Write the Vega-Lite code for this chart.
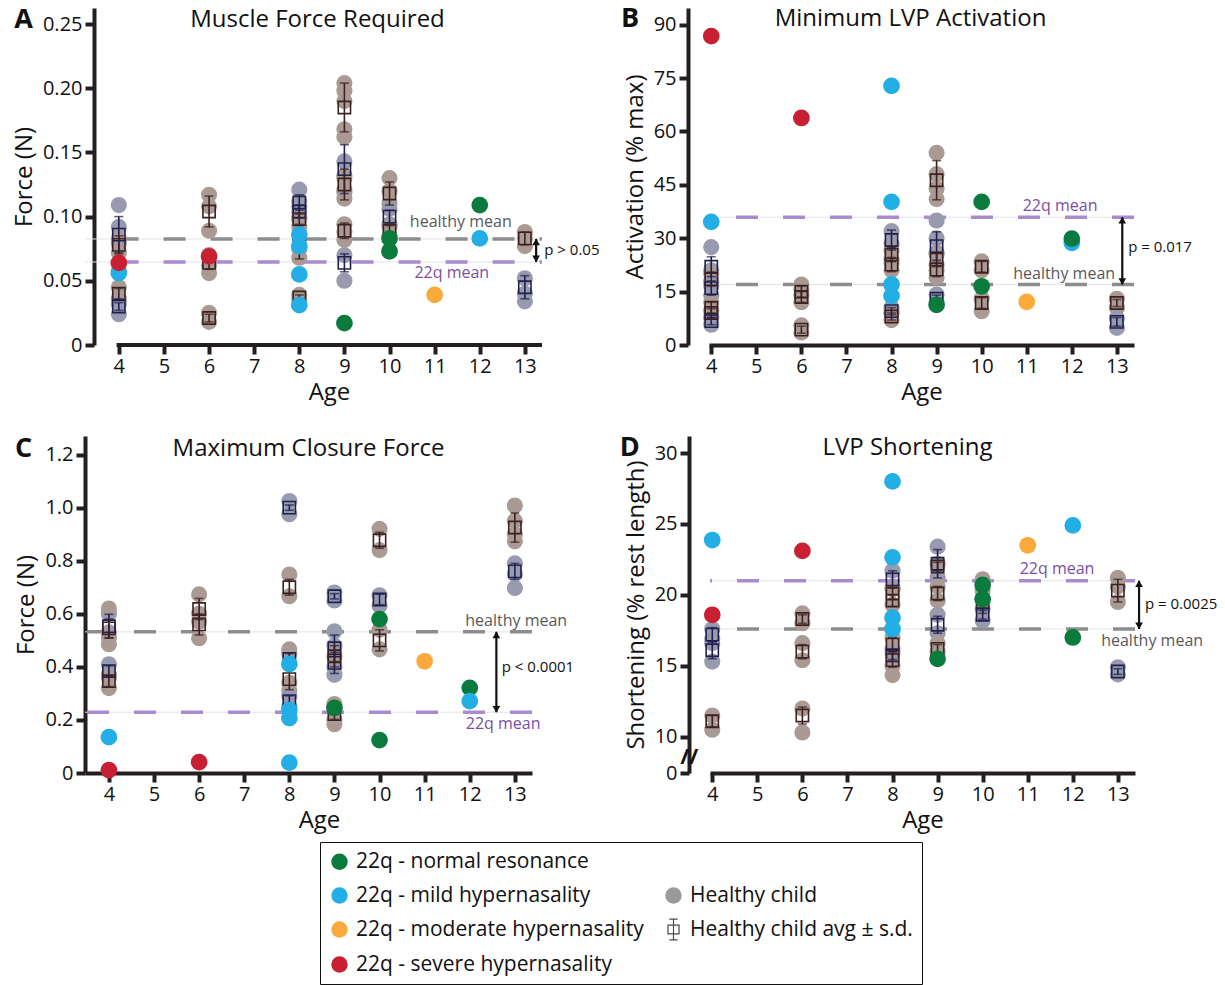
{
"$schema": "https://vega.github.io/schema/vega-lite/v6.json",
"background": "white",
"padding": {"left": 12, "top": 5, "right": 0, "bottom": 0},
"config": {
  "view": {"stroke": null},
  "font": "Open Sans",
  "axis": {"domainColor": "#231f20", "domainWidth": 4, "tickColor": "#231f20", "tickWidth": 4, "tickSize": 9, "labelFontSize": 20, "labelColor": "#111", "titleFontSize": 24, "titleFontWeight": "normal", "titleColor": "#111", "grid": false, "labelFont": "Open Sans", "titleFont": "Open Sans"},
  "axisY": {"offset": 21, "titlePadding": 6, "labelPadding": 3},
  "axisX": {"titlePadding": 4, "labelPadding": 2},
  "title": {"fontSize": 24, "fontWeight": "normal", "anchor": "middle", "offset": -26, "color": "#111", "font": "Open Sans", "frame": "group"}
},
"datasets": {
  "means": [
    {"p":"A","k":"h","v":0.0826},{"p":"A","k":"q","v":0.0647},
    {"p":"B","k":"h","v":17.0},{"p":"B","k":"q","v":35.9},
    {"p":"C","k":"h","v":0.532},{"p":"C","k":"q","v":0.229},
    {"p":"D","k":"h","v":17.6},{"p":"D","k":"q","v":21.0}
  ],
  "notes": [
    {"p":"A","k":"h","t":"healthy mean","age":11.58,"v":0.0958},
    {"p":"A","k":"q","t":"22q mean","age":11.38,"v":0.0561},
    {"p":"A","k":"p","t":"p > 0.05","age":13.43,"v":0.0737},
    {"p":"B","k":"q","t":"22q mean","age":11.74,"v":39.1},
    {"p":"B","k":"h","t":"healthy mean","age":11.83,"v":19.97},
    {"p":"B","k":"p","t":"p = 0.017","age":13.25,"v":27.6},
    {"p":"C","k":"h","t":"healthy mean","age":13.03,"v":0.572},
    {"p":"C","k":"q","t":"22q mean","age":12.74,"v":0.184},
    {"p":"C","k":"p","t":"p < 0.0001","age":12.71,"v":0.399},
    {"p":"D","k":"q","t":"22q mean","age":11.65,"v":21.86},
    {"p":"D","k":"h","t":"healthy mean","age":13.76,"v":16.74},
    {"p":"D","k":"p","t":"p = 0.0025","age":13.6,"v":19.33},
    {"p":"D","k":"b","t":"//","age":3.49,"v":8.6}
  ],
  "arrows": [
    {"p":"A","age":13.25,"lo":0.0647,"hi":0.0826},
    {"p":"B","age":13.12,"lo":17.0,"hi":35.9},
    {"p":"C","age":12.59,"lo":0.229,"hi":0.532},
    {"p":"D","age":13.47,"lo":17.6,"hi":21.0}
  ],
  "baseline": [
    {"p":"A","from":3.95,"to":13.38,"v":0}
  ],
  "letters": [
    {"p":"A","t":"A","age":1.89,"v":0.253},
    {"p":"B","t":"B","age":2.2,"v":91.6},
    {"p":"C","t":"C","age":2.11,"v":1.222},
    {"p":"D","t":"D","age":2.17,"v":30.35}
  ],
  "hp": [
    {"p":"A","age":4,"v":0.109,"g":"b"},{"p":"A","age":4,"v":0.092,"g":"b"},{"p":"A","age":4,"v":0.083,"g":"a"},{"p":"A","age":4,"v":0.079,"g":"b"},{"p":"A","age":4,"v":0.072,"g":"a"},{"p":"A","age":4,"v":0.058,"g":"a"},{"p":"A","age":4,"v":0.045,"g":"a"},{"p":"A","age":4,"v":0.036,"g":"a"},{"p":"A","age":4,"v":0.032,"g":"b"},{"p":"A","age":4,"v":0.024,"g":"b"},
    {"p":"A","age":6,"v":0.117,"g":"a"},{"p":"A","age":6,"v":0.108,"g":"a"},{"p":"A","age":6,"v":0.089,"g":"a"},{"p":"A","age":6,"v":0.070,"g":"a"},{"p":"A","age":6,"v":0.062,"g":"a"},{"p":"A","age":6,"v":0.056,"g":"a"},{"p":"A","age":6,"v":0.025,"g":"a"},{"p":"A","age":6,"v":0.018,"g":"a"},
    {"p":"A","age":8,"v":0.121,"g":"b"},{"p":"A","age":8,"v":0.112,"g":"b"},{"p":"A","age":8,"v":0.104,"g":"b"},{"p":"A","age":8,"v":0.108,"g":"b"},{"p":"A","age":8,"v":0.099,"g":"b"},{"p":"A","age":8,"v":0.098,"g":"a"},{"p":"A","age":8,"v":0.092,"g":"a"},{"p":"A","age":8,"v":0.075,"g":"a"},{"p":"A","age":8,"v":0.068,"g":"a"},{"p":"A","age":8,"v":0.039,"g":"a"},{"p":"A","age":8,"v":0.035,"g":"a"},
    {"p":"A","age":9,"v":0.204,"g":"a"},{"p":"A","age":9,"v":0.198,"g":"a"},{"p":"A","age":9,"v":0.190,"g":"a"},{"p":"A","age":9,"v":0.168,"g":"a"},{"p":"A","age":9,"v":0.162,"g":"a"},{"p":"A","age":9,"v":0.143,"g":"b"},{"p":"A","age":9,"v":0.132,"g":"b"},{"p":"A","age":9,"v":0.119,"g":"b"},{"p":"A","age":9,"v":0.130,"g":"a"},{"p":"A","age":9,"v":0.121,"g":"a"},{"p":"A","age":9,"v":0.114,"g":"a"},{"p":"A","age":9,"v":0.094,"g":"a"},{"p":"A","age":9,"v":0.088,"g":"a"},{"p":"A","age":9,"v":0.082,"g":"a"},{"p":"A","age":9,"v":0.070,"g":"b"},{"p":"A","age":9,"v":0.050,"g":"b"},
    {"p":"A","age":10,"v":0.130,"g":"a"},{"p":"A","age":10,"v":0.120,"g":"a"},{"p":"A","age":10,"v":0.110,"g":"a"},{"p":"A","age":10,"v":0.106,"g":"b"},{"p":"A","age":10,"v":0.094,"g":"b"},{"p":"A","age":10,"v":0.092,"g":"a"},{"p":"A","age":10,"v":0.085,"g":"a"},
    {"p":"A","age":13,"v":0.088,"g":"a"},{"p":"A","age":13,"v":0.083,"g":"a"},{"p":"A","age":13,"v":0.077,"g":"a"},{"p":"A","age":13,"v":0.052,"g":"b"},{"p":"A","age":13,"v":0.040,"g":"b"},{"p":"A","age":13,"v":0.034,"g":"b"},
    {"p":"B","age":4,"v":27.5,"g":"b"},{"p":"B","age":4,"v":21,"g":"b"},{"p":"B","age":4,"v":18,"g":"b"},{"p":"B","age":4,"v":20,"g":"a"},{"p":"B","age":4,"v":16.5,"g":"a"},{"p":"B","age":4,"v":17.5,"g":"b"},{"p":"B","age":4,"v":14,"g":"b"},{"p":"B","age":4,"v":12,"g":"a"},{"p":"B","age":4,"v":9.5,"g":"a"},{"p":"B","age":4,"v":10,"g":"a"},{"p":"B","age":4,"v":8,"g":"a"},{"p":"B","age":4,"v":7.5,"g":"b"},{"p":"B","age":4,"v":5.7,"g":"b"},
    {"p":"B","age":6,"v":17,"g":"a"},{"p":"B","age":6,"v":15.5,"g":"a"},{"p":"B","age":6,"v":14,"g":"a"},{"p":"B","age":6,"v":12,"g":"a"},{"p":"B","age":6,"v":5.5,"g":"a"},{"p":"B","age":6,"v":3.5,"g":"a"},
    {"p":"B","age":8,"v":32,"g":"b"},{"p":"B","age":8,"v":28.5,"g":"b"},{"p":"B","age":8,"v":26.5,"g":"a"},{"p":"B","age":8,"v":24,"g":"a"},{"p":"B","age":8,"v":23,"g":"a"},{"p":"B","age":8,"v":21,"g":"a"},{"p":"B","age":8,"v":10.5,"g":"b"},{"p":"B","age":8,"v":9,"g":"b"},{"p":"B","age":8,"v":9,"g":"a"},{"p":"B","age":8,"v":7,"g":"a"},
    {"p":"B","age":9,"v":54,"g":"a"},{"p":"B","age":9,"v":48,"g":"a"},{"p":"B","age":9,"v":44,"g":"a"},{"p":"B","age":9,"v":41,"g":"a"},{"p":"B","age":9,"v":35,"g":"b"},{"p":"B","age":9,"v":30,"g":"b"},{"p":"B","age":9,"v":26,"g":"b"},{"p":"B","age":9,"v":25.5,"g":"a"},{"p":"B","age":9,"v":22.5,"g":"a"},{"p":"B","age":9,"v":21,"g":"a"},{"p":"B","age":9,"v":19,"g":"a"},{"p":"B","age":9,"v":14.2,"g":"b"},{"p":"B","age":9,"v":12,"g":"b"},
    {"p":"B","age":10,"v":23.5,"g":"a"},{"p":"B","age":10,"v":21,"g":"a"},{"p":"B","age":10,"v":13,"g":"a"},{"p":"B","age":10,"v":9.5,"g":"a"},
    {"p":"B","age":13,"v":13,"g":"a"},{"p":"B","age":13,"v":10.5,"g":"a"},{"p":"B","age":13,"v":7.5,"g":"b"},{"p":"B","age":13,"v":4.8,"g":"b"},
    {"p":"C","age":4,"v":0.60,"g":"b"},{"p":"C","age":4,"v":0.53,"g":"b"},{"p":"C","age":4,"v":0.62,"g":"a"},{"p":"C","age":4,"v":0.51,"g":"a"},{"p":"C","age":4,"v":0.485,"g":"a"},{"p":"C","age":4,"v":0.41,"g":"b"},{"p":"C","age":4,"v":0.37,"g":"b"},{"p":"C","age":4,"v":0.36,"g":"a"},{"p":"C","age":4,"v":0.32,"g":"a"},
    {"p":"C","age":6,"v":0.673,"g":"a"},{"p":"C","age":6,"v":0.60,"g":"a"},{"p":"C","age":6,"v":0.57,"g":"a"},{"p":"C","age":6,"v":0.508,"g":"a"},
    {"p":"C","age":8,"v":1.025,"g":"b"},{"p":"C","age":8,"v":0.975,"g":"b"},{"p":"C","age":8,"v":0.748,"g":"a"},{"p":"C","age":8,"v":0.666,"g":"a"},{"p":"C","age":8,"v":0.45,"g":"b"},{"p":"C","age":8,"v":0.466,"g":"a"},{"p":"C","age":8,"v":0.34,"g":"a"},{"p":"C","age":8,"v":0.31,"g":"a"},{"p":"C","age":8,"v":0.29,"g":"b"},{"p":"C","age":8,"v":0.25,"g":"b"},
    {"p":"C","age":9,"v":0.68,"g":"b"},{"p":"C","age":9,"v":0.65,"g":"b"},{"p":"C","age":9,"v":0.534,"g":"b"},{"p":"C","age":9,"v":0.48,"g":"b"},{"p":"C","age":9,"v":0.40,"g":"b"},{"p":"C","age":9,"v":0.37,"g":"b"},{"p":"C","age":9,"v":0.44,"g":"a"},{"p":"C","age":9,"v":0.26,"g":"a"},{"p":"C","age":9,"v":0.20,"g":"a"},{"p":"C","age":9,"v":0.184,"g":"a"},
    {"p":"C","age":10,"v":0.92,"g":"a"},{"p":"C","age":10,"v":0.84,"g":"a"},{"p":"C","age":10,"v":0.67,"g":"b"},{"p":"C","age":10,"v":0.63,"g":"b"},{"p":"C","age":10,"v":0.54,"g":"a"},{"p":"C","age":10,"v":0.466,"g":"a"},
    {"p":"C","age":13,"v":1.008,"g":"a"},{"p":"C","age":13,"v":0.95,"g":"a"},{"p":"C","age":13,"v":0.90,"g":"a"},{"p":"C","age":13,"v":0.873,"g":"a"},{"p":"C","age":13,"v":0.79,"g":"b"},{"p":"C","age":13,"v":0.75,"g":"b"},{"p":"C","age":13,"v":0.697,"g":"b"},
    {"p":"D","age":4,"v":17.6,"g":"b"},{"p":"D","age":4,"v":16.9,"g":"b"},{"p":"D","age":4,"v":16.6,"g":"b"},{"p":"D","age":4,"v":15.3,"g":"b"},{"p":"D","age":4,"v":11.5,"g":"a"},{"p":"D","age":4,"v":10.5,"g":"a"},
    {"p":"D","age":6,"v":18.7,"g":"a"},{"p":"D","age":6,"v":18.0,"g":"a"},{"p":"D","age":6,"v":16.6,"g":"a"},{"p":"D","age":6,"v":15.4,"g":"a"},{"p":"D","age":6,"v":12.0,"g":"a"},{"p":"D","age":6,"v":10.3,"g":"a"},
    {"p":"D","age":8,"v":21.7,"g":"b"},{"p":"D","age":8,"v":20.5,"g":"b"},{"p":"D","age":8,"v":20.4,"g":"a"},{"p":"D","age":8,"v":19.3,"g":"a"},{"p":"D","age":8,"v":17.0,"g":"a"},{"p":"D","age":8,"v":16.2,"g":"a"},{"p":"D","age":8,"v":15.9,"g":"b"},{"p":"D","age":8,"v":15.0,"g":"a"},{"p":"D","age":8,"v":14.35,"g":"a"},
    {"p":"D","age":9,"v":23.4,"g":"b"},{"p":"D","age":9,"v":21.25,"g":"b"},{"p":"D","age":9,"v":22.2,"g":"a"},{"p":"D","age":9,"v":20.6,"g":"a"},{"p":"D","age":9,"v":19.6,"g":"a"},{"p":"D","age":9,"v":18.6,"g":"b"},{"p":"D","age":9,"v":17.3,"g":"b"},{"p":"D","age":9,"v":16.6,"g":"a"},{"p":"D","age":9,"v":16.0,"g":"a"},
    {"p":"D","age":10,"v":21.1,"g":"a"},{"p":"D","age":10,"v":20.3,"g":"a"},{"p":"D","age":10,"v":19.0,"g":"b"},{"p":"D","age":10,"v":18.2,"g":"b"},
    {"p":"D","age":13,"v":21.2,"g":"a"},{"p":"D","age":13,"v":20.6,"g":"a"},{"p":"D","age":13,"v":19.5,"g":"a"},{"p":"D","age":13,"v":14.9,"g":"b"},{"p":"D","age":13,"v":14.4,"g":"b"}
  ],
  "ha": [
    {"p":"A","age":4,"m":0.086,"lo":0.072,"hi":0.100,"g":"b"},{"p":"A","age":4,"m":0.078,"lo":0.071,"hi":0.085,"g":"a"},{"p":"A","age":4,"m":0.040,"lo":0.036,"hi":0.044,"g":"a"},{"p":"A","age":4,"m":0.030,"lo":0.027,"hi":0.033,"g":"b"},
    {"p":"A","age":6,"m":0.104,"lo":0.092,"hi":0.116,"g":"a"},{"p":"A","age":6,"m":0.064,"lo":0.059,"hi":0.069,"g":"a"},{"p":"A","age":6,"m":0.021,"lo":0.018,"hi":0.024,"g":"a"},
    {"p":"A","age":8,"m":0.111,"lo":0.105,"hi":0.117,"g":"b"},{"p":"A","age":8,"m":0.104,"lo":0.099,"hi":0.109,"g":"b"},{"p":"A","age":8,"m":0.098,"lo":0.094,"hi":0.102,"g":"a"},{"p":"A","age":8,"m":0.080,"lo":0.067,"hi":0.093,"g":"a"},{"p":"A","age":8,"m":0.037,"lo":0.035,"hi":0.039,"g":"a"},
    {"p":"A","age":9,"m":0.185,"lo":0.166,"hi":0.204,"g":"a"},{"p":"A","age":9,"m":0.137,"lo":0.118,"hi":0.156,"g":"b"},{"p":"A","age":9,"m":0.125,"lo":0.113,"hi":0.137,"g":"a"},{"p":"A","age":9,"m":0.089,"lo":0.083,"hi":0.095,"g":"a"},{"p":"A","age":9,"m":0.064,"lo":0.057,"hi":0.071,"g":"b"},
    {"p":"A","age":10,"m":0.118,"lo":0.109,"hi":0.127,"g":"a"},{"p":"A","age":10,"m":0.100,"lo":0.095,"hi":0.105,"g":"b"},{"p":"A","age":10,"m":0.089,"lo":0.085,"hi":0.093,"g":"a"},
    {"p":"A","age":13,"m":0.083,"lo":0.078,"hi":0.088,"g":"a"},{"p":"A","age":13,"m":0.045,"lo":0.036,"hi":0.054,"g":"b"},
    {"p":"B","age":4,"m":22,"lo":19.2,"hi":24.8,"g":"b"},{"p":"B","age":4,"m":18.5,"lo":16.5,"hi":20.5,"g":"a"},{"p":"B","age":4,"m":16,"lo":14,"hi":18,"g":"b"},{"p":"B","age":4,"m":10.5,"lo":9,"hi":12,"g":"a"},{"p":"B","age":4,"m":9,"lo":7.8,"hi":10.2,"g":"a"},{"p":"B","age":4,"m":6.7,"lo":5.7,"hi":7.7,"g":"b"},
    {"p":"B","age":6,"m":15,"lo":13.5,"hi":16.5,"g":"a"},{"p":"B","age":6,"m":13.5,"lo":12,"hi":15,"g":"a"},{"p":"B","age":6,"m":4.3,"lo":3.3,"hi":5.3,"g":"a"},
    {"p":"B","age":8,"m":29.5,"lo":26.7,"hi":32.3,"g":"b"},{"p":"B","age":8,"m":25.4,"lo":23.4,"hi":27.4,"g":"a"},{"p":"B","age":8,"m":22.6,"lo":20.6,"hi":24.6,"g":"a"},{"p":"B","age":8,"m":9.5,"lo":8.5,"hi":10.5,"g":"b"},{"p":"B","age":8,"m":8,"lo":7,"hi":9,"g":"a"},
    {"p":"B","age":9,"m":46.3,"lo":40.8,"hi":51.8,"g":"a"},{"p":"B","age":9,"m":27.8,"lo":23.8,"hi":31.8,"g":"b"},{"p":"B","age":9,"m":24,"lo":22,"hi":26,"g":"a"},{"p":"B","age":9,"m":21.2,"lo":19.2,"hi":23.2,"g":"a"},{"p":"B","age":9,"m":13,"lo":12,"hi":14,"g":"b"},
    {"p":"B","age":10,"m":22,"lo":20.5,"hi":23.5,"g":"a"},{"p":"B","age":10,"m":11.8,"lo":10.3,"hi":13.3,"g":"a"},
    {"p":"B","age":13,"m":11.8,"lo":10.8,"hi":12.8,"g":"a"},{"p":"B","age":13,"m":6.5,"lo":5.3,"hi":7.7,"g":"b"},
    {"p":"C","age":4,"m":0.553,"lo":0.508,"hi":0.598,"g":"b"},{"p":"C","age":4,"m":0.545,"lo":0.51,"hi":0.58,"g":"a"},{"p":"C","age":4,"m":0.384,"lo":0.364,"hi":0.404,"g":"b"},{"p":"C","age":4,"m":0.346,"lo":0.326,"hi":0.366,"g":"a"},
    {"p":"C","age":6,"m":0.618,"lo":0.578,"hi":0.658,"g":"a"},{"p":"C","age":6,"m":0.56,"lo":0.52,"hi":0.60,"g":"a"},
    {"p":"C","age":8,"m":1.0,"lo":0.99,"hi":1.01,"g":"b"},{"p":"C","age":8,"m":0.70,"lo":0.67,"hi":0.73,"g":"a"},{"p":"C","age":8,"m":0.43,"lo":0.41,"hi":0.45,"g":"b"},{"p":"C","age":8,"m":0.354,"lo":0.314,"hi":0.394,"g":"a"},{"p":"C","age":8,"m":0.271,"lo":0.251,"hi":0.291,"g":"b"},
    {"p":"C","age":9,"m":0.666,"lo":0.656,"hi":0.676,"g":"b"},{"p":"C","age":9,"m":0.47,"lo":0.42,"hi":0.52,"g":"b"},{"p":"C","age":9,"m":0.415,"lo":0.375,"hi":0.455,"g":"b"},{"p":"C","age":9,"m":0.44,"lo":0.40,"hi":0.48,"g":"a"},{"p":"C","age":9,"m":0.222,"lo":0.202,"hi":0.242,"g":"a"},
    {"p":"C","age":10,"m":0.877,"lo":0.847,"hi":0.907,"g":"a"},{"p":"C","age":10,"m":0.654,"lo":0.634,"hi":0.674,"g":"b"},{"p":"C","age":10,"m":0.50,"lo":0.46,"hi":0.54,"g":"a"},
    {"p":"C","age":13,"m":0.925,"lo":0.87,"hi":0.98,"g":"a"},{"p":"C","age":13,"m":0.76,"lo":0.73,"hi":0.79,"g":"b"},
    {"p":"D","age":4,"m":17.2,"lo":16.7,"hi":17.7,"g":"b"},{"p":"D","age":4,"m":16.1,"lo":15.5,"hi":16.7,"g":"b"},{"p":"D","age":4,"m":11.1,"lo":10.7,"hi":11.5,"g":"a"},
    {"p":"D","age":6,"m":18.3,"lo":18.0,"hi":18.6,"g":"a"},{"p":"D","age":6,"m":16.0,"lo":15.5,"hi":16.5,"g":"a"},{"p":"D","age":6,"m":11.5,"lo":10.9,"hi":12.1,"g":"a"},
    {"p":"D","age":8,"m":21.1,"lo":20.5,"hi":21.7,"g":"b"},{"p":"D","age":8,"m":20.1,"lo":19.7,"hi":20.5,"g":"a"},{"p":"D","age":8,"m":19.6,"lo":19.2,"hi":20.0,"g":"a"},{"p":"D","age":8,"m":16.5,"lo":16.0,"hi":17.0,"g":"a"},{"p":"D","age":8,"m":15.75,"lo":15.45,"hi":16.05,"g":"b"},{"p":"D","age":8,"m":15.4,"lo":14.9,"hi":15.9,"g":"a"},
    {"p":"D","age":9,"m":22.2,"lo":21.2,"hi":23.2,"g":"b"},{"p":"D","age":9,"m":22.0,"lo":21.7,"hi":22.3,"g":"a"},{"p":"D","age":9,"m":20.1,"lo":19.6,"hi":20.6,"g":"a"},{"p":"D","age":9,"m":17.9,"lo":17.3,"hi":18.5,"g":"b"},{"p":"D","age":9,"m":16.2,"lo":15.9,"hi":16.5,"g":"a"},
    {"p":"D","age":10,"m":19.5,"lo":18.7,"hi":20.3,"g":"a"},{"p":"D","age":10,"m":18.6,"lo":18.3,"hi":18.9,"g":"b"},
    {"p":"D","age":13,"m":20.3,"lo":19.5,"hi":21.1,"g":"a"},{"p":"D","age":13,"m":14.6,"lo":14.4,"hi":14.8,"g":"b"}
  ],
  "q": [
    {"p":"A","age":4,"v":0.056,"grp":"22q - mild hypernasality"},{"p":"A","age":4,"v":0.064,"grp":"22q - severe hypernasality"},
    {"p":"A","age":6,"v":0.069,"grp":"22q - severe hypernasality"},
    {"p":"A","age":8,"v":0.086,"grp":"22q - mild hypernasality"},{"p":"A","age":8,"v":0.077,"grp":"22q - mild hypernasality"},{"p":"A","age":8,"v":0.055,"grp":"22q - mild hypernasality"},{"p":"A","age":8,"v":0.031,"grp":"22q - mild hypernasality"},
    {"p":"A","age":9,"v":0.017,"grp":"22q - normal resonance"},
    {"p":"A","age":10,"v":0.083,"grp":"22q - normal resonance"},{"p":"A","age":10,"v":0.073,"grp":"22q - normal resonance"},
    {"p":"A","age":11,"v":0.039,"grp":"22q - moderate hypernasality"},
    {"p":"A","age":12,"v":0.109,"grp":"22q - normal resonance"},{"p":"A","age":12,"v":0.083,"grp":"22q - mild hypernasality"},
    {"p":"B","age":4,"v":86.8,"grp":"22q - severe hypernasality"},{"p":"B","age":4,"v":34.6,"grp":"22q - mild hypernasality"},
    {"p":"B","age":6,"v":63.8,"grp":"22q - severe hypernasality"},
    {"p":"B","age":8,"v":72.8,"grp":"22q - mild hypernasality"},{"p":"B","age":8,"v":40.2,"grp":"22q - mild hypernasality"},{"p":"B","age":8,"v":17,"grp":"22q - mild hypernasality"},{"p":"B","age":8,"v":13.8,"grp":"22q - mild hypernasality"},
    {"p":"B","age":9,"v":11.3,"grp":"22q - normal resonance"},
    {"p":"B","age":10,"v":40.2,"grp":"22q - normal resonance"},{"p":"B","age":10,"v":16.5,"grp":"22q - normal resonance"},
    {"p":"B","age":11,"v":12.1,"grp":"22q - moderate hypernasality"},
    {"p":"B","age":12,"v":28.7,"grp":"22q - mild hypernasality"},{"p":"B","age":12,"v":29.9,"grp":"22q - normal resonance"},
    {"p":"C","age":4,"v":0.135,"grp":"22q - mild hypernasality"},{"p":"C","age":4,"v":0.011,"grp":"22q - severe hypernasality"},
    {"p":"C","age":6,"v":0.041,"grp":"22q - severe hypernasality"},
    {"p":"C","age":8,"v":0.41,"grp":"22q - mild hypernasality"},{"p":"C","age":8,"v":0.237,"grp":"22q - mild hypernasality"},{"p":"C","age":8,"v":0.207,"grp":"22q - mild hypernasality"},{"p":"C","age":8,"v":0.039,"grp":"22q - mild hypernasality"},
    {"p":"C","age":9,"v":0.245,"grp":"22q - normal resonance"},
    {"p":"C","age":10,"v":0.58,"grp":"22q - normal resonance"},{"p":"C","age":10,"v":0.124,"grp":"22q - normal resonance"},
    {"p":"C","age":11,"v":0.421,"grp":"22q - moderate hypernasality"},
    {"p":"C","age":12,"v":0.321,"grp":"22q - normal resonance"},{"p":"C","age":12,"v":0.271,"grp":"22q - mild hypernasality"},
    {"p":"D","age":4,"v":23.87,"grp":"22q - mild hypernasality"},{"p":"D","age":4,"v":18.6,"grp":"22q - severe hypernasality"},
    {"p":"D","age":6,"v":23.1,"grp":"22q - severe hypernasality"},
    {"p":"D","age":8,"v":28.0,"grp":"22q - mild hypernasality"},{"p":"D","age":8,"v":22.65,"grp":"22q - mild hypernasality"},{"p":"D","age":8,"v":18.4,"grp":"22q - mild hypernasality"},{"p":"D","age":8,"v":17.6,"grp":"22q - mild hypernasality"},
    {"p":"D","age":9,"v":15.5,"grp":"22q - normal resonance"},
    {"p":"D","age":10,"v":20.7,"grp":"22q - normal resonance"},{"p":"D","age":10,"v":19.7,"grp":"22q - normal resonance"},
    {"p":"D","age":11,"v":23.5,"grp":"22q - moderate hypernasality"},
    {"p":"D","age":12,"v":24.9,"grp":"22q - mild hypernasality"},{"p":"D","age":12,"v":17.0,"grp":"22q - normal resonance"}
  ]
},
"spacing": 30,
"vconcat": [
{"spacing": 21, "hconcat": [
 {"width": 457, "height": 337, "title": {"text": "Muscle Force Required", "dx": 4},
  "layer": [
   {"data":{"name":"means"},"transform":[{"filter":"datum.p==='A'"}],"mark":{"type":"rule","strokeWidth":1,"color":"#e3e3e3"},"encoding":{"y":{"field":"v","type":"quantitative","scale":{"domain":[0,0.2625],"nice":false,"zero":false},"axis":{"values":[0,0.05,0.1,0.15,0.2,0.25],"labelExpr":"datum.value === 0 ? '0' : format(datum.value, '.2f')","title":"Force (N)","offset":-9}}}},
   {"data":{"name":"means"},"transform":[{"filter":"datum.p==='A'"}],"mark":{"type":"rule","strokeWidth":3.5,"strokeDash":[22,25]},"encoding":{"x":{"datum":3.95},"x2":{"datum":13.38},"y":{"field":"v","type":"quantitative"},"color":{"condition":{"test":"datum.k==='h'","value":"#8d8d8d"},"value":"#a98cd0"}}},
   {"data":{"name":"baseline"},"mark":{"type":"rule","strokeWidth":4,"color":"#231f20"},"encoding":{"x":{"field":"from","type":"quantitative"},"x2":{"field":"to"},"y":{"field":"v","type":"quantitative"}}},
   {"data":{"name":"hp"},"transform":[{"filter":"datum.p==='A'"}],"mark":{"type":"circle","size":260,"opacity":1},"encoding":{"x":{"field":"age","type":"quantitative","scale":{"domain":[3.25,13.38],"nice":false,"zero":false},"axis":{"values":[4,5,6,7,8,9,10,11,12,13],"title":"Age","domain":false,"titleX":244}},"y":{"field":"v","type":"quantitative"},"color":{"condition":{"test":"datum.g==='a'","value":"#a99b94"},"value":"#989aaf"}}},
   {"data":{"name":"ha"},"transform":[{"filter":"datum.p==='A'"}],"mark":{"type":"rule","strokeWidth":1.6},"encoding":{"x":{"field":"age","type":"quantitative"},"y":{"field":"lo","type":"quantitative"},"y2":{"field":"hi"},"color":{"condition":{"test":"datum.g==='a'","value":"#3d2020"},"value":"#20204e"}}},
   {"data":{"name":"ha"},"transform":[{"filter":"datum.p==='A'"}],"mark":{"type":"tick","orient":"horizontal","size":9,"thickness":1.6},"encoding":{"x":{"field":"age","type":"quantitative"},"y":{"field":"lo","type":"quantitative"},"color":{"condition":{"test":"datum.g==='a'","value":"#3d2020"},"value":"#20204e"}}},
   {"data":{"name":"ha"},"transform":[{"filter":"datum.p==='A'"}],"mark":{"type":"tick","orient":"horizontal","size":9,"thickness":1.6},"encoding":{"x":{"field":"age","type":"quantitative"},"y":{"field":"hi","type":"quantitative"},"color":{"condition":{"test":"datum.g==='a'","value":"#3d2020"},"value":"#20204e"}}},
   {"data":{"name":"ha"},"transform":[{"filter":"datum.p==='A'"}],"mark":{"type":"point","shape":"square","filled":false,"size":150,"strokeWidth":1.6,"opacity":1},"encoding":{"x":{"field":"age","type":"quantitative"},"y":{"field":"m","type":"quantitative"},"color":{"condition":{"test":"datum.g==='a'","value":"#3d2020"},"value":"#20204e"}}},
   {"data":{"name":"q"},"transform":[{"filter":"datum.p==='A'"}],"mark":{"type":"point","filled":true,"size":280,"opacity":1,"strokeWidth":0},"encoding":{"x":{"field":"age","type":"quantitative"},"y":{"field":"v","type":"quantitative"},
     "color":{"field":"grp","type":"nominal","scale":{"domain":["22q - normal resonance","22q - mild hypernasality","22q - moderate hypernasality","22q - severe hypernasality"," ","Healthy child","Healthy child avg ± s.d.","  "],"range":["#0b7a3d","#23aee5","#f9aa3b","#c81f32","#ffffff","#9a9a9a","#4a4a4a","#ffffff"]},"legend":{"orient":"none","legendX":235,"legendY":834,"title":null,"columns":2,"symbolSize":270,"labelFontSize":21,"labelFont":"Open Sans","labelColor":"#111","labelLimit":400,"labelOffset":6,"rowPadding":12,"columnPadding":19,"padding":9,"strokeColor":"#111","encode":{"legend":{"strokeWidth":{"value":2}}}}},
     "shape":{"field":"grp","type":"nominal","scale":{"domain":["22q - normal resonance","22q - mild hypernasality","22q - moderate hypernasality","22q - severe hypernasality"," ","Healthy child","Healthy child avg ± s.d.","  "],"range":["circle","circle","circle","circle","circle","circle","M-0.75,-0.6H0.75V0.6H-0.75ZM-0.6,-0.45V0.45H0.6V-0.45ZM-0.07,-1.35H0.07V1.35H-0.07ZM-0.5,-1.35H0.5V-1.2H-0.5ZM-0.5,1.2H0.5V1.35H-0.5Z","circle"]},"legend":{"orient":"none","legendX":235,"legendY":834,"title":null,"columns":2,"symbolSize":270,"labelFontSize":21,"labelFont":"Open Sans","labelColor":"#111","labelLimit":400,"labelOffset":6,"rowPadding":12,"columnPadding":19,"padding":9,"strokeColor":"#111","encode":{"legend":{"strokeWidth":{"value":2}}}}}}},
   {"data":{"name":"arrows"},"transform":[{"filter":"datum.p==='A'"}],"mark":{"type":"rule","strokeWidth":2.2,"color":"#111"},"encoding":{"x":{"field":"age","type":"quantitative"},"y":{"field":"lo","type":"quantitative"},"y2":{"field":"hi"}}},
   {"data":{"name":"arrows"},"transform":[{"filter":"datum.p==='A'"}],"mark":{"type":"point","shape":"triangle-up","filled":true,"size":60,"color":"#111","yOffset":3,"opacity":1},"encoding":{"x":{"field":"age","type":"quantitative"},"y":{"field":"hi","type":"quantitative"}}},
   {"data":{"name":"arrows"},"transform":[{"filter":"datum.p==='A'"}],"mark":{"type":"point","shape":"triangle-down","filled":true,"size":60,"color":"#111","yOffset":-3,"opacity":1},"encoding":{"x":{"field":"age","type":"quantitative"},"y":{"field":"lo","type":"quantitative"}}},
   {"data":{"name":"notes"},"transform":[{"filter":"datum.p==='A' && (datum.k==='h' || datum.k==='q')"}],"mark":{"type":"text","fontSize":16,"align":"center","baseline":"middle"},"encoding":{"x":{"field":"age","type":"quantitative"},"y":{"field":"v","type":"quantitative"},"text":{"field":"t"},"color":{"condition":{"test":"datum.k==='h'","value":"#58595b"},"value":"#7a4ea3"}}},
   {"data":{"name":"notes"},"transform":[{"filter":"datum.p==='A' && datum.k==='p'"}],"mark":{"type":"text","fontSize":15,"align":"left","baseline":"middle","color":"#111"},"encoding":{"x":{"field":"age","type":"quantitative"},"y":{"field":"v","type":"quantitative"},"text":{"field":"t"}}},
   {"data":{"name":"letters"},"transform":[{"filter":"datum.p==='A'"}],"mark":{"type":"text","fontSize":27,"fontWeight":"bold","align":"center","baseline":"middle","color":"#111"},"encoding":{"x":{"field":"age","type":"quantitative"},"y":{"field":"v","type":"quantitative"},"text":{"field":"t"}}}
  ]},
 {"width": 425, "height": 337, "title": {"text": "Minimum LVP Activation", "dx": -11},
  "layer": [
   {"data":{"name":"means"},"transform":[{"filter":"datum.p==='B'"}],"mark":{"type":"rule","strokeWidth":1,"color":"#e3e3e3"},"encoding":{"y":{"field":"v","type":"quantitative","scale":{"domain":[0,94.7],"nice":false,"zero":false},"axis":{"values":[0,15,30,45,60,75,90],"title":"Activation (% max)"}}}},
   {"data":{"name":"means"},"transform":[{"filter":"datum.p==='B'"}],"mark":{"type":"rule","strokeWidth":3.5,"strokeDash":[22,25]},"encoding":{"y":{"field":"v","type":"quantitative"},"color":{"condition":{"test":"datum.k==='h'","value":"#8d8d8d"},"value":"#a98cd0"}}},
   {"data":{"name":"hp"},"transform":[{"filter":"datum.p==='B'"}],"mark":{"type":"circle","size":260,"opacity":1},"encoding":{"x":{"field":"age","type":"quantitative","scale":{"domain":[3.95,13.38],"nice":false,"zero":false},"axis":{"values":[4,5,6,7,8,9,10,11,12,13],"title":"Age"}},"y":{"field":"v","type":"quantitative"},"color":{"condition":{"test":"datum.g==='a'","value":"#a99b94"},"value":"#989aaf"}}},
   {"data":{"name":"ha"},"transform":[{"filter":"datum.p==='B'"}],"mark":{"type":"rule","strokeWidth":1.6},"encoding":{"x":{"field":"age","type":"quantitative"},"y":{"field":"lo","type":"quantitative"},"y2":{"field":"hi"},"color":{"condition":{"test":"datum.g==='a'","value":"#3d2020"},"value":"#20204e"}}},
   {"data":{"name":"ha"},"transform":[{"filter":"datum.p==='B'"}],"mark":{"type":"tick","orient":"horizontal","size":9,"thickness":1.6},"encoding":{"x":{"field":"age","type":"quantitative"},"y":{"field":"lo","type":"quantitative"},"color":{"condition":{"test":"datum.g==='a'","value":"#3d2020"},"value":"#20204e"}}},
   {"data":{"name":"ha"},"transform":[{"filter":"datum.p==='B'"}],"mark":{"type":"tick","orient":"horizontal","size":9,"thickness":1.6},"encoding":{"x":{"field":"age","type":"quantitative"},"y":{"field":"hi","type":"quantitative"},"color":{"condition":{"test":"datum.g==='a'","value":"#3d2020"},"value":"#20204e"}}},
   {"data":{"name":"ha"},"transform":[{"filter":"datum.p==='B'"}],"mark":{"type":"point","shape":"square","filled":false,"size":150,"strokeWidth":1.6,"opacity":1},"encoding":{"x":{"field":"age","type":"quantitative"},"y":{"field":"m","type":"quantitative"},"color":{"condition":{"test":"datum.g==='a'","value":"#3d2020"},"value":"#20204e"}}},
   {"data":{"name":"q"},"transform":[{"filter":"datum.p==='B'"}],"mark":{"type":"point","filled":true,"size":280,"opacity":1,"strokeWidth":0},"encoding":{"x":{"field":"age","type":"quantitative"},"y":{"field":"v","type":"quantitative"},
     "color":{"field":"grp","type":"nominal","scale":{"domain":["22q - normal resonance","22q - mild hypernasality","22q - moderate hypernasality","22q - severe hypernasality"," ","Healthy child","Healthy child avg ± s.d.","  "],"range":["#0b7a3d","#23aee5","#f9aa3b","#c81f32","#ffffff","#9a9a9a","#4a4a4a","#ffffff"]},"legend":{"orient":"none","legendX":235,"legendY":834,"title":null,"columns":2,"symbolSize":270,"labelFontSize":21,"labelFont":"Open Sans","labelColor":"#111","labelLimit":400,"labelOffset":6,"rowPadding":12,"columnPadding":19,"padding":9,"strokeColor":"#111","encode":{"legend":{"strokeWidth":{"value":2}}}}},
     "shape":{"field":"grp","type":"nominal","scale":{"domain":["22q - normal resonance","22q - mild hypernasality","22q - moderate hypernasality","22q - severe hypernasality"," ","Healthy child","Healthy child avg ± s.d.","  "],"range":["circle","circle","circle","circle","circle","circle","M-0.75,-0.6H0.75V0.6H-0.75ZM-0.6,-0.45V0.45H0.6V-0.45ZM-0.07,-1.35H0.07V1.35H-0.07ZM-0.5,-1.35H0.5V-1.2H-0.5ZM-0.5,1.2H0.5V1.35H-0.5Z","circle"]},"legend":{"orient":"none","legendX":235,"legendY":834,"title":null,"columns":2,"symbolSize":270,"labelFontSize":21,"labelFont":"Open Sans","labelColor":"#111","labelLimit":400,"labelOffset":6,"rowPadding":12,"columnPadding":19,"padding":9,"strokeColor":"#111","encode":{"legend":{"strokeWidth":{"value":2}}}}}}},
   {"data":{"name":"arrows"},"transform":[{"filter":"datum.p==='B'"}],"mark":{"type":"rule","strokeWidth":2.2,"color":"#111"},"encoding":{"x":{"field":"age","type":"quantitative"},"y":{"field":"lo","type":"quantitative"},"y2":{"field":"hi"}}},
   {"data":{"name":"arrows"},"transform":[{"filter":"datum.p==='B'"}],"mark":{"type":"point","shape":"triangle-up","filled":true,"size":60,"color":"#111","yOffset":3,"opacity":1},"encoding":{"x":{"field":"age","type":"quantitative"},"y":{"field":"hi","type":"quantitative"}}},
   {"data":{"name":"arrows"},"transform":[{"filter":"datum.p==='B'"}],"mark":{"type":"point","shape":"triangle-down","filled":true,"size":60,"color":"#111","yOffset":-3,"opacity":1},"encoding":{"x":{"field":"age","type":"quantitative"},"y":{"field":"lo","type":"quantitative"}}},
   {"data":{"name":"notes"},"transform":[{"filter":"datum.p==='B' && (datum.k==='h' || datum.k==='q')"}],"mark":{"type":"text","fontSize":16,"align":"center","baseline":"middle"},"encoding":{"x":{"field":"age","type":"quantitative"},"y":{"field":"v","type":"quantitative"},"text":{"field":"t"},"color":{"condition":{"test":"datum.k==='h'","value":"#58595b"},"value":"#7a4ea3"}}},
   {"data":{"name":"notes"},"transform":[{"filter":"datum.p==='B' && datum.k==='p'"}],"mark":{"type":"text","fontSize":15,"align":"left","baseline":"middle","color":"#111"},"encoding":{"x":{"field":"age","type":"quantitative"},"y":{"field":"v","type":"quantitative"},"text":{"field":"t"}}},
   {"data":{"name":"letters"},"transform":[{"filter":"datum.p==='B'"}],"mark":{"type":"text","fontSize":27,"fontWeight":"bold","align":"center","baseline":"middle","color":"#111"},"encoding":{"x":{"field":"age","type":"quantitative"},"y":{"field":"v","type":"quantitative"},"text":{"field":"t"}}}
  ]}
]},
{"spacing": 44, "hconcat": [
 {"width": 447, "height": 337, "title": {"text": "Maximum Closure Force", "dx": 0},
  "layer": [
   {"data":{"name":"means"},"transform":[{"filter":"datum.p==='C'"}],"mark":{"type":"rule","strokeWidth":1,"color":"#e3e3e3"},"encoding":{"y":{"field":"v","type":"quantitative","scale":{"domain":[0,1.27],"nice":false,"zero":false},"axis":{"values":[0,0.2,0.4,0.6,0.8,1.0,1.2],"labelExpr":"datum.value === 0 ? '0' : format(datum.value, '.1f')","title":"Force (N)","offset":0}}}},
   {"data":{"name":"means"},"transform":[{"filter":"datum.p==='C'"}],"mark":{"type":"rule","strokeWidth":3.5,"strokeDash":[22,25]},"encoding":{"y":{"field":"v","type":"quantitative"},"color":{"condition":{"test":"datum.k==='h'","value":"#8d8d8d"},"value":"#a98cd0"}}},
   {"data":{"name":"hp"},"transform":[{"filter":"datum.p==='C'"}],"mark":{"type":"circle","size":260,"opacity":1},"encoding":{"x":{"field":"age","type":"quantitative","scale":{"domain":[3.47,13.38],"nice":false,"zero":false},"axis":{"values":[4,5,6,7,8,9,10,11,12,13],"title":"Age","titleX":234}},"y":{"field":"v","type":"quantitative"},"color":{"condition":{"test":"datum.g==='a'","value":"#a99b94"},"value":"#989aaf"}}},
   {"data":{"name":"ha"},"transform":[{"filter":"datum.p==='C'"}],"mark":{"type":"rule","strokeWidth":1.6},"encoding":{"x":{"field":"age","type":"quantitative"},"y":{"field":"lo","type":"quantitative"},"y2":{"field":"hi"},"color":{"condition":{"test":"datum.g==='a'","value":"#3d2020"},"value":"#20204e"}}},
   {"data":{"name":"ha"},"transform":[{"filter":"datum.p==='C'"}],"mark":{"type":"tick","orient":"horizontal","size":9,"thickness":1.6},"encoding":{"x":{"field":"age","type":"quantitative"},"y":{"field":"lo","type":"quantitative"},"color":{"condition":{"test":"datum.g==='a'","value":"#3d2020"},"value":"#20204e"}}},
   {"data":{"name":"ha"},"transform":[{"filter":"datum.p==='C'"}],"mark":{"type":"tick","orient":"horizontal","size":9,"thickness":1.6},"encoding":{"x":{"field":"age","type":"quantitative"},"y":{"field":"hi","type":"quantitative"},"color":{"condition":{"test":"datum.g==='a'","value":"#3d2020"},"value":"#20204e"}}},
   {"data":{"name":"ha"},"transform":[{"filter":"datum.p==='C'"}],"mark":{"type":"point","shape":"square","filled":false,"size":150,"strokeWidth":1.6,"opacity":1},"encoding":{"x":{"field":"age","type":"quantitative"},"y":{"field":"m","type":"quantitative"},"color":{"condition":{"test":"datum.g==='a'","value":"#3d2020"},"value":"#20204e"}}},
   {"data":{"name":"q"},"transform":[{"filter":"datum.p==='C'"}],"mark":{"type":"point","filled":true,"size":280,"opacity":1,"strokeWidth":0},"encoding":{"x":{"field":"age","type":"quantitative"},"y":{"field":"v","type":"quantitative"},
     "color":{"field":"grp","type":"nominal","scale":{"domain":["22q - normal resonance","22q - mild hypernasality","22q - moderate hypernasality","22q - severe hypernasality"," ","Healthy child","Healthy child avg ± s.d.","  "],"range":["#0b7a3d","#23aee5","#f9aa3b","#c81f32","#ffffff","#9a9a9a","#4a4a4a","#ffffff"]},"legend":{"orient":"none","legendX":235,"legendY":834,"title":null,"columns":2,"symbolSize":270,"labelFontSize":21,"labelFont":"Open Sans","labelColor":"#111","labelLimit":400,"labelOffset":6,"rowPadding":12,"columnPadding":19,"padding":9,"strokeColor":"#111","encode":{"legend":{"strokeWidth":{"value":2}}}}},
     "shape":{"field":"grp","type":"nominal","scale":{"domain":["22q - normal resonance","22q - mild hypernasality","22q - moderate hypernasality","22q - severe hypernasality"," ","Healthy child","Healthy child avg ± s.d.","  "],"range":["circle","circle","circle","circle","circle","circle","M-0.75,-0.6H0.75V0.6H-0.75ZM-0.6,-0.45V0.45H0.6V-0.45ZM-0.07,-1.35H0.07V1.35H-0.07ZM-0.5,-1.35H0.5V-1.2H-0.5ZM-0.5,1.2H0.5V1.35H-0.5Z","circle"]},"legend":{"orient":"none","legendX":235,"legendY":834,"title":null,"columns":2,"symbolSize":270,"labelFontSize":21,"labelFont":"Open Sans","labelColor":"#111","labelLimit":400,"labelOffset":6,"rowPadding":12,"columnPadding":19,"padding":9,"strokeColor":"#111","encode":{"legend":{"strokeWidth":{"value":2}}}}}}},
   {"data":{"name":"arrows"},"transform":[{"filter":"datum.p==='C'"}],"mark":{"type":"rule","strokeWidth":2.2,"color":"#111"},"encoding":{"x":{"field":"age","type":"quantitative"},"y":{"field":"lo","type":"quantitative"},"y2":{"field":"hi"}}},
   {"data":{"name":"arrows"},"transform":[{"filter":"datum.p==='C'"}],"mark":{"type":"point","shape":"triangle-up","filled":true,"size":60,"color":"#111","yOffset":3,"opacity":1},"encoding":{"x":{"field":"age","type":"quantitative"},"y":{"field":"hi","type":"quantitative"}}},
   {"data":{"name":"arrows"},"transform":[{"filter":"datum.p==='C'"}],"mark":{"type":"point","shape":"triangle-down","filled":true,"size":60,"color":"#111","yOffset":-3,"opacity":1},"encoding":{"x":{"field":"age","type":"quantitative"},"y":{"field":"lo","type":"quantitative"}}},
   {"data":{"name":"notes"},"transform":[{"filter":"datum.p==='C' && (datum.k==='h' || datum.k==='q')"}],"mark":{"type":"text","fontSize":16,"align":"center","baseline":"middle"},"encoding":{"x":{"field":"age","type":"quantitative"},"y":{"field":"v","type":"quantitative"},"text":{"field":"t"},"color":{"condition":{"test":"datum.k==='h'","value":"#58595b"},"value":"#7a4ea3"}}},
   {"data":{"name":"notes"},"transform":[{"filter":"datum.p==='C' && datum.k==='p'"}],"mark":{"type":"text","fontSize":15,"align":"left","baseline":"middle","color":"#111"},"encoding":{"x":{"field":"age","type":"quantitative"},"y":{"field":"v","type":"quantitative"},"text":{"field":"t"}}},
   {"data":{"name":"letters"},"transform":[{"filter":"datum.p==='C'"}],"mark":{"type":"text","fontSize":27,"fontWeight":"bold","align":"center","baseline":"middle","color":"#111"},"encoding":{"x":{"field":"age","type":"quantitative"},"y":{"field":"v","type":"quantitative"},"text":{"field":"t"}}}
  ]},
 {"width": 425, "height": 337, "title": {"text": "LVP Shortening", "dx": -15},
  "layer": [
   {"data":{"name":"means"},"transform":[{"filter":"datum.p==='D'"}],"mark":{"type":"rule","strokeWidth":1,"color":"#e3e3e3"},"encoding":{"y":{"field":"v","type":"quantitative","scale":{"domain":[7.45,31.2],"nice":false,"zero":false},"axis":{"values":[7.45,10,15,20,25,30],"labelExpr":"datum.value < 9 ? '0' : datum.label","title":"Shortening (% rest length)"}}}},
   {"data":{"name":"means"},"transform":[{"filter":"datum.p==='D'"}],"mark":{"type":"rule","strokeWidth":3.5,"strokeDash":[22,25]},"encoding":{"y":{"field":"v","type":"quantitative"},"color":{"condition":{"test":"datum.k==='h'","value":"#8d8d8d"},"value":"#a98cd0"}}},
   {"data":{"name":"hp"},"transform":[{"filter":"datum.p==='D'"}],"mark":{"type":"circle","size":260,"opacity":1},"encoding":{"x":{"field":"age","type":"quantitative","scale":{"domain":[3.95,13.38],"nice":false,"zero":false},"axis":{"values":[4,5,6,7,8,9,10,11,12,13],"title":"Age"}},"y":{"field":"v","type":"quantitative"},"color":{"condition":{"test":"datum.g==='a'","value":"#a99b94"},"value":"#989aaf"}}},
   {"data":{"name":"ha"},"transform":[{"filter":"datum.p==='D'"}],"mark":{"type":"rule","strokeWidth":1.6},"encoding":{"x":{"field":"age","type":"quantitative"},"y":{"field":"lo","type":"quantitative"},"y2":{"field":"hi"},"color":{"condition":{"test":"datum.g==='a'","value":"#3d2020"},"value":"#20204e"}}},
   {"data":{"name":"ha"},"transform":[{"filter":"datum.p==='D'"}],"mark":{"type":"tick","orient":"horizontal","size":9,"thickness":1.6},"encoding":{"x":{"field":"age","type":"quantitative"},"y":{"field":"lo","type":"quantitative"},"color":{"condition":{"test":"datum.g==='a'","value":"#3d2020"},"value":"#20204e"}}},
   {"data":{"name":"ha"},"transform":[{"filter":"datum.p==='D'"}],"mark":{"type":"tick","orient":"horizontal","size":9,"thickness":1.6},"encoding":{"x":{"field":"age","type":"quantitative"},"y":{"field":"hi","type":"quantitative"},"color":{"condition":{"test":"datum.g==='a'","value":"#3d2020"},"value":"#20204e"}}},
   {"data":{"name":"ha"},"transform":[{"filter":"datum.p==='D'"}],"mark":{"type":"point","shape":"square","filled":false,"size":150,"strokeWidth":1.6,"opacity":1},"encoding":{"x":{"field":"age","type":"quantitative"},"y":{"field":"m","type":"quantitative"},"color":{"condition":{"test":"datum.g==='a'","value":"#3d2020"},"value":"#20204e"}}},
   {"data":{"name":"q"},"transform":[{"filter":"datum.p==='D'"}],"mark":{"type":"point","filled":true,"size":280,"opacity":1,"strokeWidth":0},"encoding":{"x":{"field":"age","type":"quantitative"},"y":{"field":"v","type":"quantitative"},
     "color":{"field":"grp","type":"nominal","scale":{"domain":["22q - normal resonance","22q - mild hypernasality","22q - moderate hypernasality","22q - severe hypernasality"," ","Healthy child","Healthy child avg ± s.d.","  "],"range":["#0b7a3d","#23aee5","#f9aa3b","#c81f32","#ffffff","#9a9a9a","#4a4a4a","#ffffff"]},"legend":{"orient":"none","legendX":235,"legendY":834,"title":null,"columns":2,"symbolSize":270,"labelFontSize":21,"labelFont":"Open Sans","labelColor":"#111","labelLimit":400,"labelOffset":6,"rowPadding":12,"columnPadding":19,"padding":9,"strokeColor":"#111","encode":{"legend":{"strokeWidth":{"value":2}}}}},
     "shape":{"field":"grp","type":"nominal","scale":{"domain":["22q - normal resonance","22q - mild hypernasality","22q - moderate hypernasality","22q - severe hypernasality"," ","Healthy child","Healthy child avg ± s.d.","  "],"range":["circle","circle","circle","circle","circle","circle","M-0.75,-0.6H0.75V0.6H-0.75ZM-0.6,-0.45V0.45H0.6V-0.45ZM-0.07,-1.35H0.07V1.35H-0.07ZM-0.5,-1.35H0.5V-1.2H-0.5ZM-0.5,1.2H0.5V1.35H-0.5Z","circle"]},"legend":{"orient":"none","legendX":235,"legendY":834,"title":null,"columns":2,"symbolSize":270,"labelFontSize":21,"labelFont":"Open Sans","labelColor":"#111","labelLimit":400,"labelOffset":6,"rowPadding":12,"columnPadding":19,"padding":9,"strokeColor":"#111","encode":{"legend":{"strokeWidth":{"value":2}}}}}}},
   {"data":{"name":"arrows"},"transform":[{"filter":"datum.p==='D'"}],"mark":{"type":"rule","strokeWidth":2.2,"color":"#111"},"encoding":{"x":{"field":"age","type":"quantitative"},"y":{"field":"lo","type":"quantitative"},"y2":{"field":"hi"}}},
   {"data":{"name":"arrows"},"transform":[{"filter":"datum.p==='D'"}],"mark":{"type":"point","shape":"triangle-up","filled":true,"size":60,"color":"#111","yOffset":3,"opacity":1},"encoding":{"x":{"field":"age","type":"quantitative"},"y":{"field":"hi","type":"quantitative"}}},
   {"data":{"name":"arrows"},"transform":[{"filter":"datum.p==='D'"}],"mark":{"type":"point","shape":"triangle-down","filled":true,"size":60,"color":"#111","yOffset":-3,"opacity":1},"encoding":{"x":{"field":"age","type":"quantitative"},"y":{"field":"lo","type":"quantitative"}}},
   {"data":{"name":"notes"},"transform":[{"filter":"datum.p==='D' && (datum.k==='h' || datum.k==='q')"}],"mark":{"type":"text","fontSize":16,"align":"center","baseline":"middle"},"encoding":{"x":{"field":"age","type":"quantitative"},"y":{"field":"v","type":"quantitative"},"text":{"field":"t"},"color":{"condition":{"test":"datum.k==='h'","value":"#58595b"},"value":"#7a4ea3"}}},
   {"data":{"name":"notes"},"transform":[{"filter":"datum.p==='D' && datum.k==='p'"}],"mark":{"type":"text","fontSize":15,"align":"left","baseline":"middle","color":"#111"},"encoding":{"x":{"field":"age","type":"quantitative"},"y":{"field":"v","type":"quantitative"},"text":{"field":"t"}}},
   {"data":{"name":"notes"},"transform":[{"filter":"datum.p==='D' && datum.k==='b'"}],"mark":{"type":"text","fontSize":22,"fontWeight":"bold","align":"center","baseline":"middle","color":"#111"},"encoding":{"x":{"field":"age","type":"quantitative"},"y":{"field":"v","type":"quantitative"},"text":{"field":"t"}}},
   {"data":{"name":"letters"},"transform":[{"filter":"datum.p==='D'"}],"mark":{"type":"text","fontSize":27,"fontWeight":"bold","align":"center","baseline":"middle","color":"#111"},"encoding":{"x":{"field":"age","type":"quantitative"},"y":{"field":"v","type":"quantitative"},"text":{"field":"t"}}}
  ]}
]}
]
}
